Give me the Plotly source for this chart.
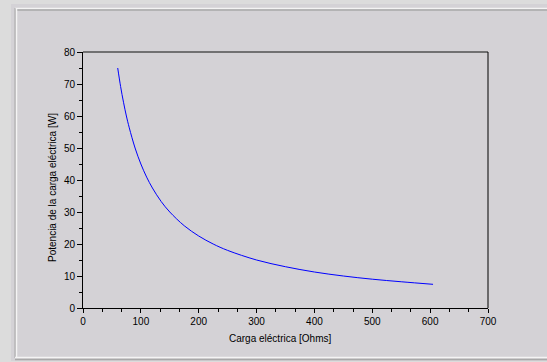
import plotly.graph_objects as go

# Data
carga_ohms = [60, 65, 70, 75, 80, 90, 100, 110, 120, 135, 150, 175, 200, 225,
              250, 300, 350, 400, 450, 500, 550, 605]
potencia_w = [75, 69.2, 64.3, 60, 56.3, 50, 45, 40.9, 37.5, 33.3, 30, 25.7,
              22.5, 20, 18, 15, 12.9, 11.25, 10, 9, 8.2, 7.4]

x_ticks = [0, 100, 200, 300, 400, 500, 600, 700]
y_ticks = [0, 10, 20, 30, 40, 50, 60, 70, 80]

BG = "#d4d2d6"
W, H = 547, 362
ML, MR, MT, MB = 83, 59, 52, 54
PW, PH = W - ML - MR, H - MT - MB


def px(x):
    return (x - ML) / PW


def py(y):
    return 1 - (y - MT) / PH


fig = go.Figure()
fig.add_trace(go.Scatter(x=carga_ohms, y=potencia_w, mode="lines",
                         line=dict(color="#0000ff", width=1, shape="spline"),
                         hoverinfo="skip", showlegend=False))

font = dict(family="Liberation Sans, Arial, sans-serif", size=10, color="#000000")

fig.update_layout(
    width=W, height=H,
    margin=dict(l=ML, r=MR, t=MT, b=MB),
    paper_bgcolor=BG, plot_bgcolor=BG,
    font=font,
    xaxis=dict(range=[0, 700], tickvals=x_ticks, ticks="outside", ticklen=4,
               tickcolor="#000000", showline=True, linecolor="#000000",
               linewidth=1, showgrid=False, zeroline=False, mirror=False,
               minor=dict(dtick=100 / 3, ticks="outside", ticklen=3,
                          tickcolor="#000000", showgrid=False),
               fixedrange=True),
    yaxis=dict(range=[0, 80], tickvals=y_ticks, ticks="outside", ticklen=5,
               tickcolor="#000000", showline=True, linecolor="#000000",
               linewidth=1, showgrid=False, zeroline=False, mirror=False,
               minor=dict(dtick=5, ticks="outside", ticklen=3,
                          tickcolor="#000000", showgrid=False),
               fixedrange=True),
)

shapes = []
# lighter outer strips (window edges)
shapes.append(dict(type="rect", xref="paper", yref="paper", x0=px(0), x1=px(11),
                   y0=py(H), y1=py(0), fillcolor="#dcdcdc", line=dict(width=0), layer="below"))
shapes.append(dict(type="rect", xref="paper", yref="paper", x0=px(0), x1=px(W),
                   y0=py(4), y1=py(0), fillcolor="#dcdcdc", line=dict(width=0), layer="below"))
shapes.append(dict(type="rect", xref="paper", yref="paper", x0=px(0), x1=px(W),
                   y0=py(H), y1=py(361), fillcolor="#dcdcdc", line=dict(width=0), layer="below"))
# frame lines
shapes.append(dict(type="line", xref="paper", yref="paper", x0=px(15), x1=px(W),
                   y0=py(8.5), y1=py(8.5), line=dict(color="#f4f4f4", width=1.5)))
shapes.append(dict(type="line", xref="paper", yref="paper", x0=px(17), x1=px(W),
                   y0=py(10), y1=py(10), line=dict(color="#a8a8a8", width=1.5)))
shapes.append(dict(type="line", xref="paper", yref="paper", x0=px(16.5), x1=px(16.5),
                   y0=py(8), y1=py(358), line=dict(color="#f4f4f4", width=1.5)))
shapes.append(dict(type="line", xref="paper", yref="paper", x0=px(15), x1=px(15),
                   y0=py(8), y1=py(358), line=dict(color="#a8a8a8", width=1)))
shapes.append(dict(type="line", xref="paper", yref="paper", x0=px(15), x1=px(W),
                   y0=py(357.5), y1=py(357.5), line=dict(color="#f4f4f4", width=1.5)))
shapes.append(dict(type="line", xref="paper", yref="paper", x0=px(15), x1=px(W),
                   y0=py(359.5), y1=py(359.5), line=dict(color="#a8a8a8", width=1.5)))
# top and right border of plot box
shapes.append(dict(type="line", xref="paper", yref="paper", x0=0, x1=1, y0=1, y1=1,
                   line=dict(color="#505050", width=1.5)))
shapes.append(dict(type="line", xref="paper", yref="paper", x0=1, x1=1, y0=0, y1=1,
                   line=dict(color="#000000", width=1)))
fig.update_layout(shapes=shapes)

fig.add_annotation(text="Carga eléctrica [Ohms]", xref="paper", yref="paper",
                   x=px(280), y=py(338), showarrow=False, font=font,
                   xanchor="center", yanchor="middle")
fig.add_annotation(text="Potencia de la carga eléctrica [W]", xref="paper", yref="paper",
                   x=px(52), y=py(188), showarrow=False, font=font, textangle=-90,
                   xanchor="center", yanchor="middle")

fig.write_html(
    "out.html",
    config={"displayModeBar": False, "staticPlot": True},
    post_script="document.body.style.margin='0';document.body.style.overflow='hidden';"
                "document.body.style.background='" + BG + "';",
)
